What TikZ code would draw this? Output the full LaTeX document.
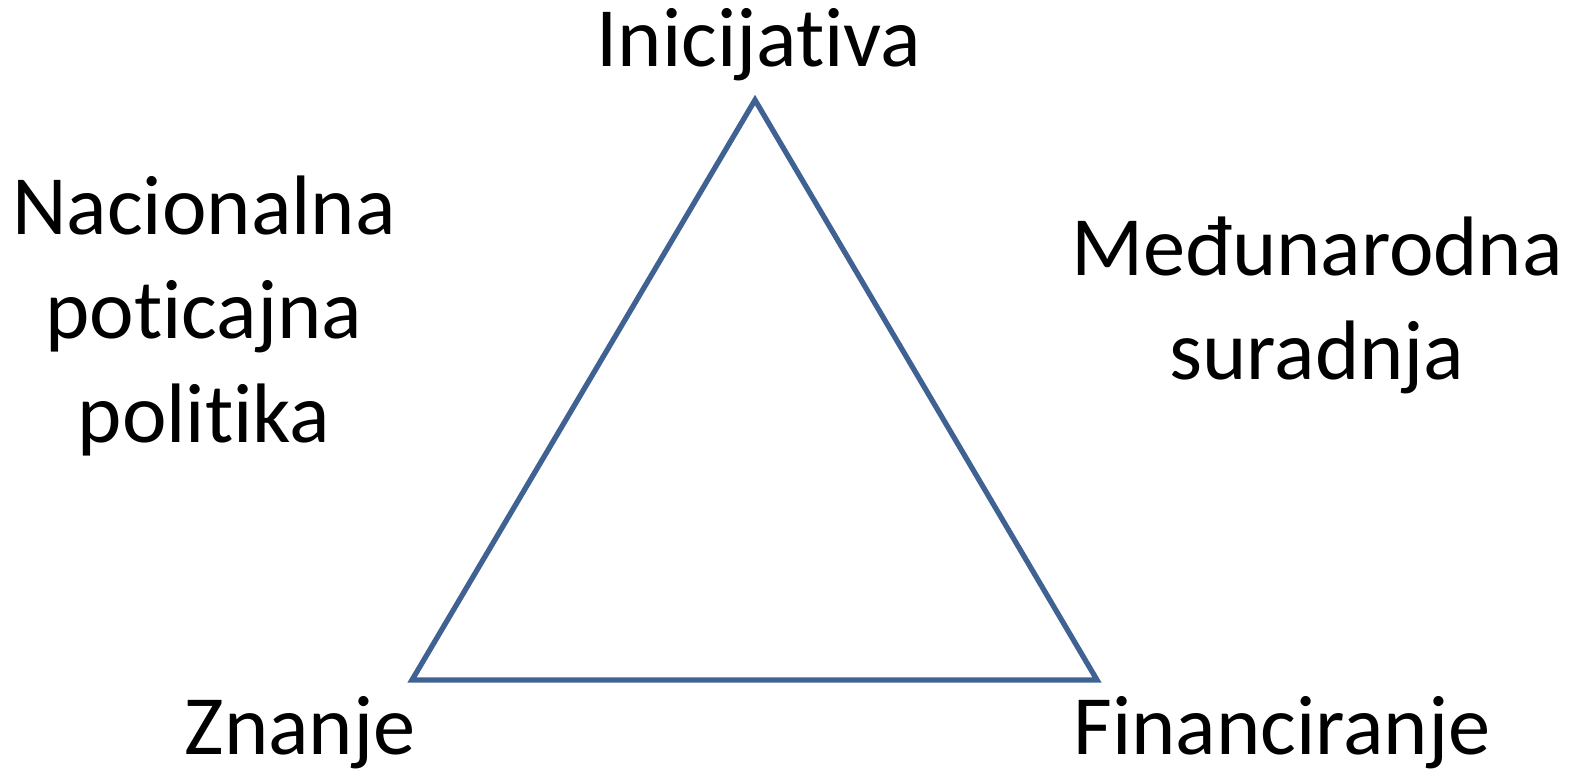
\documentclass[tikz,border=0pt]{standalone}
\usepackage{fontspec}
\setmainfont{Carlito}[Ligatures=NoCommon]
\usepackage{tikz}
\usetikzlibrary{positioning,calc}

\definecolor{edgeblue}{HTML}{3F6292}

\begin{document}
\begin{tikzpicture}[x=0.01cm, y=-0.01cm,
        word/.style={font=\fontsize{24}{29.6}\selectfont, inner sep=0pt, align=center},
        line/.style={draw, edgeblue, line width=1.5pt}]
        \useasboundingbox (0,0) rectangle (1582,771);
        \coordinate (top) at (755,100);
        \coordinate (left) at (412,680);
        \coordinate (right) at (1097,680);
        \node [word, anchor=base] (init) at (759,67) {Inicijativa};
        \node [word, anchor=base] (znanje) at (300,755) {Znanje};
        \node [word, anchor=base] (fin) at (1282,755) {Financiranje};
        \node [word, anchor=base] (nac) at (204,443) {Nacionalna\\poticajna\\politika};
        \node [word, anchor=base] (med) at (1317,380) {Međunarodna\\suradnja};

        \path [line] (top) -- (left) -- (right) -- cycle;
\end{tikzpicture}
\end{document}
